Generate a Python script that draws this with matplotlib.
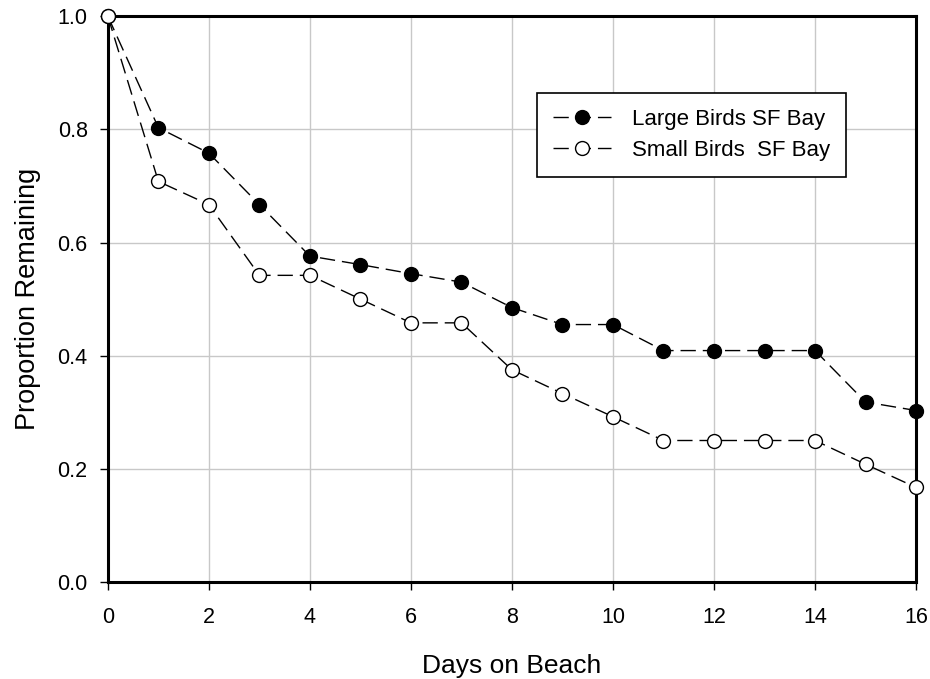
import matplotlib
matplotlib.use("Agg")
import matplotlib.pyplot as plt

plt.rcParams['font.family'] = ['Liberation Sans', 'DejaVu Sans']

days = [0, 1, 2, 3, 4, 5, 6, 7, 8, 9, 10, 11, 12, 13, 14, 15, 16]
large_birds = [1.0, 0.803, 0.758, 0.667, 0.576, 0.561, 0.545, 0.530, 0.485,
               0.455, 0.455, 0.409, 0.409, 0.409, 0.409, 0.318, 0.303]
small_birds = [1.0, 0.708, 0.667, 0.542, 0.542, 0.500, 0.458, 0.458, 0.375,
               0.333, 0.292, 0.250, 0.250, 0.250, 0.250, 0.208, 0.167]

fig = plt.figure(figsize=(9.3, 6.79), dpi=100)
ax = fig.add_axes([0.116, 0.143, 0.869, 0.833])

dash = (0, (11, 5))
ax.plot(days, large_birds, color='black', linestyle=dash, linewidth=1,
        marker='o', markersize=10, markerfacecolor='black', markeredgecolor='black',
        label='Large Birds SF Bay', clip_on=False, zorder=3)
ax.plot(days, small_birds, color='black', linestyle=dash, linewidth=1,
        marker='o', markersize=10, markerfacecolor='white', markeredgecolor='black',
        markeredgewidth=1, label='Small Birds  SF Bay', clip_on=False, zorder=4)

ax.set_xlim(0, 16)
ax.set_ylim(0, 1.0)
ax.set_xticks(range(0, 17, 2))
ax.set_yticks([0.0, 0.2, 0.4, 0.6, 0.8, 1.0])
ax.set_yticklabels(['0.0', '0.2', '0.4', '0.6', '0.8', '1.0'])
ax.grid(True, color='#c8c8c8', linewidth=1)
ax.set_axisbelow(True)

for s in ax.spines.values():
    s.set_linewidth(2.2)
ax.tick_params(direction='out', length=6, width=1, labelsize=15.5)
ax.tick_params(axis='x', pad=12)
ax.tick_params(axis='y', pad=8.5)

ax.set_xlabel('Days on Beach', fontsize=19, labelpad=19)
ax.set_ylabel('Proportion Remaining', fontsize=19.5, labelpad=12)

leg = ax.legend(loc='upper left', bbox_to_anchor=(0.531, 0.864), borderaxespad=0,
                numpoints=1, fontsize=16, fancybox=False, framealpha=1,
                edgecolor='black', handlelength=2.6, borderpad=0.72,
                handletextpad=0.95, labelspacing=0.45)
leg.get_frame().set_linewidth(1.2)

fig.savefig('out.png', dpi=100)
